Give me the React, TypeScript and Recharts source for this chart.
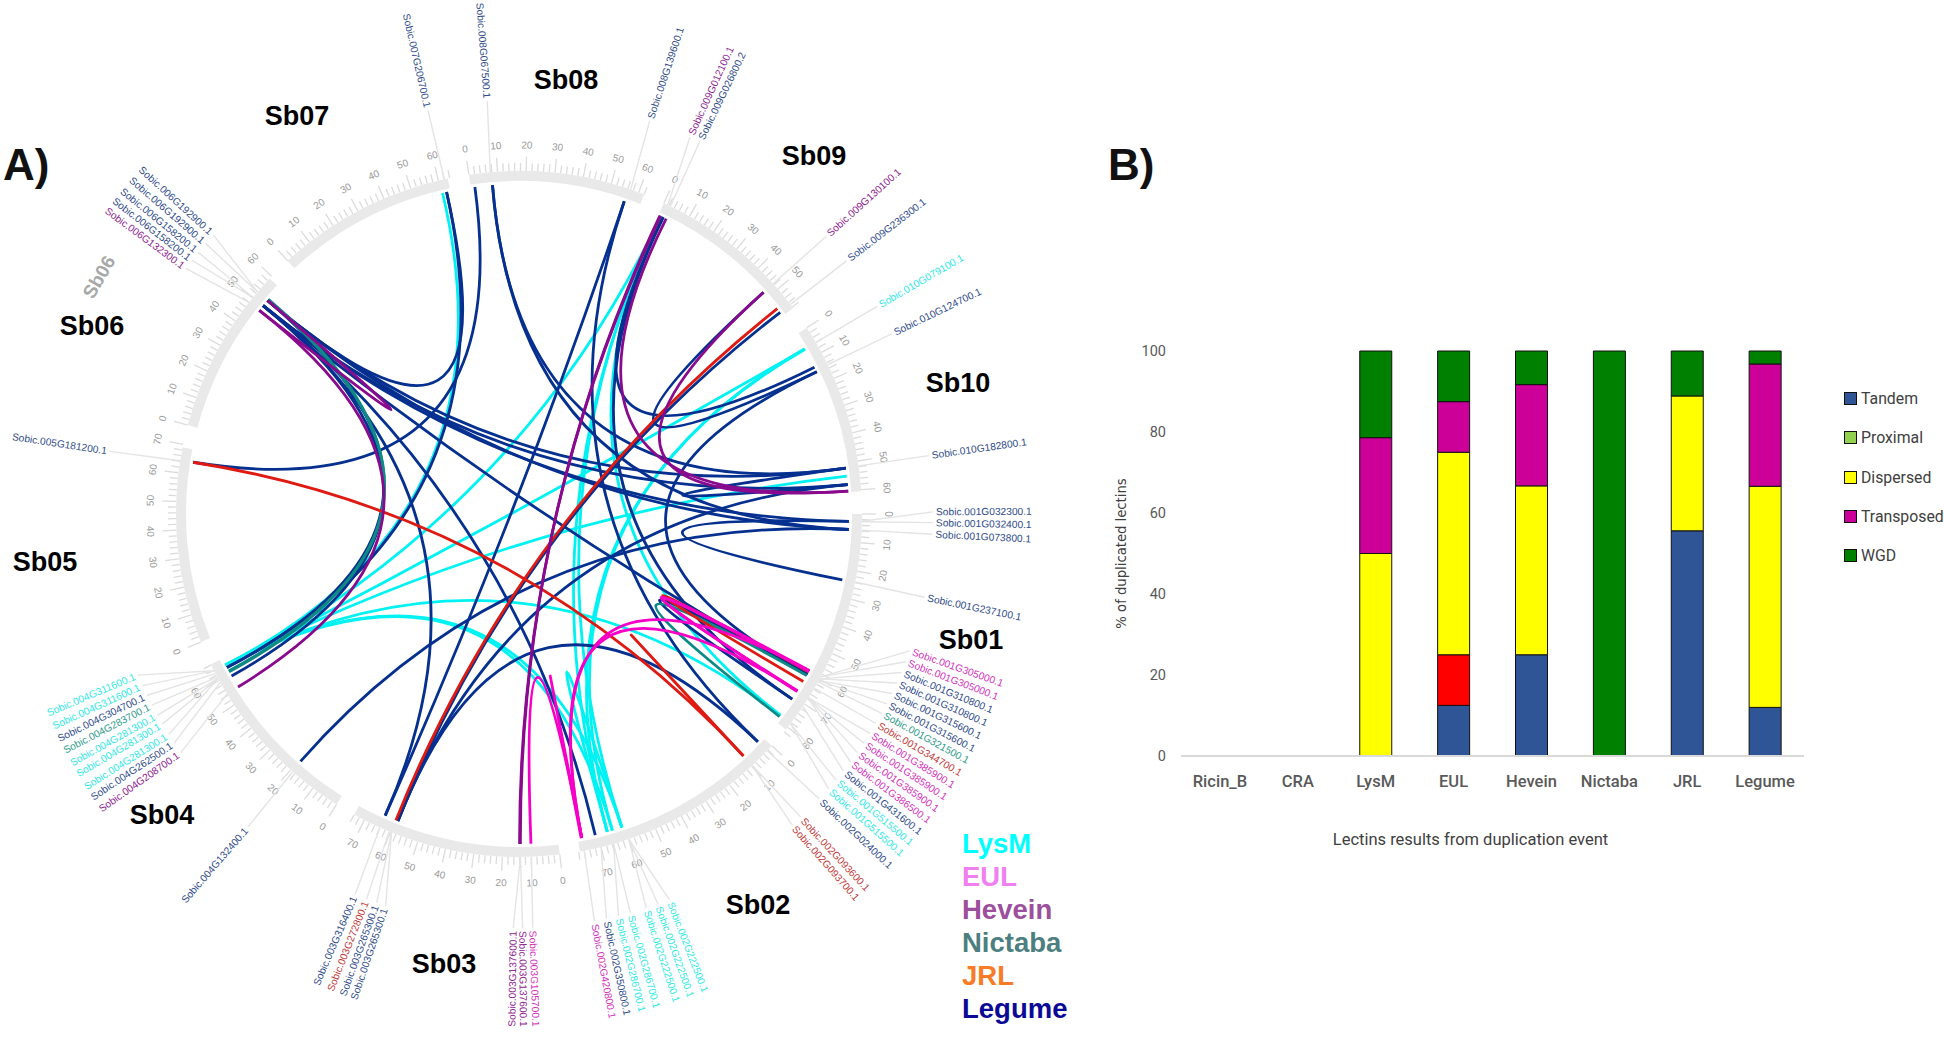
import { Bar, BarChart, Cell, Legend, Pie, PieChart, XAxis, YAxis } from "recharts";

// panel A: chromosome sizes (Mb) and the blank stretch after each one
const chromosomes = ["Sb01", "Sb02", "Sb03", "Sb04", "Sb05", "Sb06", "Sb07", "Sb08", "Sb09", "Sb10"];
const chromLengths = [81, 77.5, 74, 66.3, 69, 59, 63.3, 62, 58.5, 60.6];
const chromGaps = [7.5, 7.1, 7.1, 8.5, 7.9, 8.75, 7.5, 7.5, 8.3, 7.9];

const familyColors: Record<string, string> = {
  LysM: "#00f2f2",
  EUL: "#f600c8",
  Hevein: "#8a0a8e",
  Nictaba: "#0e8a86",
  JRL: "#de1a12",
  Legume: "#06308f",
};
const geneColors: Record<string, string> = {
  LysM: "#2fe9e6",
  EUL: "#d232bb",
  Hevein: "#8e2390",
  Nictaba: "#2f9c8c",
  JRL: "#bf3a3a",
  Legume: "#2f4b8a",
};

// [gene, chromosome, Mb, family]
const genes: [string, string, number, string][] = [
  ["Sobic.001G032300.1", "Sb01", 2.5, "Legume"],
  ["Sobic.001G032400.1", "Sb01", 2.7, "Legume"],
  ["Sobic.001G073800.1", "Sb01", 5.6, "Legume"],
  ["Sobic.001G237100.1", "Sb01", 23.8, "Legume"],
  ["Sobic.001G305000.1", "Sb01", 59, "EUL"],
  ["Sobic.001G305000.1", "Sb01", 59, "EUL"],
  ["Sobic.001G310800.1", "Sb01", 59.8, "Legume"],
  ["Sobic.001G310800.1", "Sb01", 59.8, "Legume"],
  ["Sobic.001G315600.1", "Sb01", 60.5, "Legume"],
  ["Sobic.001G315600.1", "Sb01", 60.5, "Legume"],
  ["Sobic.001G321500.1", "Sb01", 61, "Nictaba"],
  ["Sobic.001G344700.1", "Sb01", 63.5, "JRL"],
  ["Sobic.001G385900.1", "Sb01", 67.5, "EUL"],
  ["Sobic.001G385900.1", "Sb01", 67.5, "EUL"],
  ["Sobic.001G385900.1", "Sb01", 67.5, "EUL"],
  ["Sobic.001G386500.1", "Sb01", 67.6, "EUL"],
  ["Sobic.001G431600.1", "Sb01", 71, "Legume"],
  ["Sobic.001G515500.1", "Sb01", 78.4, "LysM"],
  ["Sobic.001G515500.1", "Sb01", 78.4, "LysM"],
  ["Sobic.002G024000.1", "Sb02", 2.3, "Legume"],
  ["Sobic.002G093600.1", "Sb02", 9.6, "JRL"],
  ["Sobic.002G093700.1", "Sb02", 9.7, "JRL"],
  ["Sobic.002G222500.1", "Sb02", 60, "LysM"],
  ["Sobic.002G222500.1", "Sb02", 60, "LysM"],
  ["Sobic.002G222500.1", "Sb02", 60, "LysM"],
  ["Sobic.002G286700.1", "Sb02", 65.5, "LysM"],
  ["Sobic.002G286700.1", "Sb02", 65.5, "LysM"],
  ["Sobic.002G350800.1", "Sb02", 70, "Legume"],
  ["Sobic.002G420800.1", "Sb02", 76, "EUL"],
  ["Sobic.003G105700.1", "Sb03", 9.9, "EUL"],
  ["Sobic.003G137600.1", "Sb03", 13.7, "Hevein"],
  ["Sobic.003G137600.1", "Sb03", 13.7, "Hevein"],
  ["Sobic.003G265300.1", "Sb03", 59.6, "Legume"],
  ["Sobic.003G265300.1", "Sb03", 59.6, "Legume"],
  ["Sobic.003G272800.1", "Sb03", 60.5, "JRL"],
  ["Sobic.003G316400.1", "Sb03", 64, "Legume"],
  ["Sobic.004G132400.1", "Sb04", 19, "Legume"],
  ["Sobic.004G208700.1", "Sb04", 54.5, "Hevein"],
  ["Sobic.004G262500.1", "Sb04", 59.2, "Legume"],
  ["Sobic.004G281300.1", "Sb04", 60.8, "LysM"],
  ["Sobic.004G281300.1", "Sb04", 60.8, "LysM"],
  ["Sobic.004G281300.1", "Sb04", 60.8, "LysM"],
  ["Sobic.004G283700.1", "Sb04", 61.3, "Nictaba"],
  ["Sobic.004G304700.1", "Sb04", 62.7, "Legume"],
  ["Sobic.004G311600.1", "Sb04", 63.8, "LysM"],
  ["Sobic.004G311600.1", "Sb04", 63.8, "LysM"],
  ["Sobic.005G181200.1", "Sb05", 64.2, "Legume"],
  ["Sobic.006G132300.1", "Sb06", 48, "Hevein"],
  ["Sobic.006G158200.1", "Sb06", 50.2, "Legume"],
  ["Sobic.006G158200.1", "Sb06", 50.2, "Legume"],
  ["Sobic.006G192900.1", "Sb06", 52.7, "Legume"],
  ["Sobic.006G192900.1", "Sb06", 52.7, "Legume"],
  ["Sobic.007G206700.1", "Sb07", 62.1, "Legume"],
  ["Sobic.008G067500.1", "Sb08", 7.5, "Legume"],
  ["Sobic.008G139600.1", "Sb08", 57, "Legume"],
  ["Sobic.009G012100.1", "Sb09", 1.5, "Hevein"],
  ["Sobic.009G026800.2", "Sb09", 2.5, "Legume"],
  ["Sobic.009G130100.1", "Sb09", 47.5, "Hevein"],
  ["Sobic.009G236300.1", "Sb09", 56.9, "Legume"],
  ["Sobic.010G079100.1", "Sb10", 6, "LysM"],
  ["Sobic.010G124700.1", "Sb10", 14.8, "Legume"],
  ["Sobic.010G182800.1", "Sb10", 51.7, "Legume"],
];

// clockwise degrees from north where each gene name is fanned out, same order as genes
const labelFan = [
  89.7, 91.2, 92.8, 101.6, 109.3, 110.9, 112.5, 114.1, 115.7, 117.3, 118.8, 120.4, 122, 123.6, 125.2, 126.8, 128.4,
  130, 131.6, 133.5, 137.1, 138.7, 158.7, 160.4, 162.1, 164.4, 166.1, 167.8, 169.5, 178.1, 179.5, 180.8, 198.8, 200.1,
  201.6, 203.3, 220.9, 234.8, 236.4, 237.8, 239.5, 240.9, 242.5, 244, 245.5, 247.1, 278.7, 306.4, 307.8, 309.2, 310.8,
  312.4, 347.3, 355.6, 18.4, 24.4, 25.9, 47.9, 52.3, 59.9, 64.2, 81.9,
];

// duplicated pairs: [chromosome, Mb, chromosome, Mb]
const lysmLinks: [string, number, string, number][] = [
  ["Sb07", 60.4, "Sb04", 63.8],
  ["Sb09", 1, "Sb04", 63.4],
  ["Sb10", 6, "Sb04", 63.6],
  ["Sb10", 54.8, "Sb04", 63.9],
  ["Sb01", 78.4, "Sb04", 63.7],
  ["Sb04", 63.8, "Sb02", 61],
  ["Sb04", 63.5, "Sb02", 64.6],
  ["Sb09", 1, "Sb02", 61],
  ["Sb09", 1.2, "Sb02", 66.5],
  ["Sb10", 6, "Sb02", 64.6],
  ["Sb10", 6.2, "Sb02", 66.5],
  ["Sb01", 78.2, "Sb09", 1],
  ["Sb02", 61, "Sb02", 66.5],
];
const legumeLinks: [string, number, string, number][] = [
  ["Sb06", 52.7, "Sb07", 61.9],
  ["Sb06", 50.2, "Sb04", 59.2],
  ["Sb06", 52.7, "Sb04", 62.7],
  ["Sb07", 61.9, "Sb04", 62.7],
  ["Sb06", 52.7, "Sb10", 51.9],
  ["Sb06", 50.2, "Sb10", 57.9],
  ["Sb06", 50.2, "Sb01", 2.7],
  ["Sb06", 52.7, "Sb01", 5.6],
  ["Sb06", 50.2, "Sb01", 60.5],
  ["Sb06", 50.2, "Sb03", 64],
  ["Sb06", 50.2, "Sb02", 71],
  ["Sb08", 1.5, "Sb05", 64.4],
  ["Sb08", 7.9, "Sb10", 51.9],
  ["Sb08", 7.9, "Sb01", 5.6],
  ["Sb08", 56.2, "Sb03", 64],
  ["Sb08", 56.2, "Sb02", 2.3],
  ["Sb09", 1.9, "Sb01", 71],
  ["Sb09", 56.9, "Sb03", 59],
  ["Sb09", 1.9, "Sb10", 13.5],
  ["Sb10", 15.4, "Sb01", 60.5],
  ["Sb10", 15.4, "Sb09", 47.5],
  ["Sb10", 51.9, "Sb10", 57.9],
  ["Sb01", 2.7, "Sb01", 24],
  ["Sb01", 5.6, "Sb04", 19.4],
  ["Sb10", 57.9, "Sb03", 59],
  ["Sb02", 2.3, "Sb03", 59],
  ["Sb01", 60.5, "Sb01", 71],
];
const nictabaLinks: [string, number, string, number][] = [
  ["Sb06", 52.9, "Sb04", 61.3],
  ["Sb06", 53.2, "Sb04", 61],
  ["Sb01", 61, "Sb01", 78.8],
];
const jrlLinks: [string, number, string, number][] = [
  ["Sb05", 64.4, "Sb02", 9.6],
  ["Sb09", 55.2, "Sb03", 59.8],
  ["Sb02", 9.6, "Sb02", 9.7],
  ["Sb01", 63.5, "Sb01", 59.5],
];
const heveinLinks: [string, number, string, number][] = [
  ["Sb09", 0.6, "Sb03", 13.7],
  ["Sb09", 0.9, "Sb03", 14],
  ["Sb09", 3.1, "Sb10", 60.2],
  ["Sb09", 47.5, "Sb10", 60.2],
  ["Sb06", 48, "Sb04", 54.6],
  ["Sb06", 48, "Sb06", 52.7],
];
const eulLinks: [string, number, string, number][] = [
  ["Sb01", 59, "Sb01", 67.5],
  ["Sb01", 59.3, "Sb01", 67.7],
  ["Sb01", 59, "Sb02", 76],
  ["Sb01", 67.5, "Sb02", 76],
  ["Sb03", 9.9, "Sb02", 76],
  ["Sb02", 76, "Sb02", 76.2],
];

// chromosome name positions on the page
const chromNames: [string, number, number][] = [
  ["Sb01", 971, 640],
  ["Sb02", 758, 905],
  ["Sb03", 444, 964],
  ["Sb04", 162, 815],
  ["Sb05", 45, 562],
  ["Sb06", 92, 326],
  ["Sb07", 297, 116],
  ["Sb08", 566, 80],
  ["Sb09", 814, 156],
  ["Sb10", 958, 383],
];

const familyLegend: [string, string][] = [
  ["LysM", "#00ffff"],
  ["EUL", "#f080f0"],
  ["Hevein", "#9c4f9c"],
  ["Nictaba", "#4d7f80"],
  ["JRL", "#f97b25"],
  ["Legume", "#0a0a96"],
];

// panel B
const lectins = ["Ricin_B", "CRA", "LysM", "EUL", "Hevein", "Nictaba", "JRL", "Legume"];
const tandem = [0, 0, 0, 12.5, 25, 0, 55.6, 12];
const proximal = [0, 0, 0, 12.5, 0, 0, 0, 0];
const dispersed = [0, 0, 50, 50, 41.7, 0, 33.3, 54.6];
const transposed = [0, 0, 28.6, 12.5, 25, 0, 0, 30.2];
const wgd = [0, 0, 21.4, 12.5, 8.3, 100, 11.1, 3.2];
const eventColors: Record<string, string> = {
  Tandem: "#2f5597",
  Proximal: "#92d050",
  Dispersed: "#ffff00",
  Transposed: "#cc0099",
  WGD: "#008000",
};

const barData = lectins.map((name, i) => ({
  name,
  Tandem: tandem[i],
  Proximal: proximal[i],
  Dispersed: dispersed[i],
  Transposed: transposed[i],
  WGD: wgd[i],
}));

const CX = 519;
const CY = 514;
const RING_IN = 333;
const RING_OUT = 343;
const LINK_R = 330;

const ringData = chromosomes.flatMap((name, i) => [
  { name, size: chromLengths[i], blank: false },
  { name: name + "gap", size: chromGaps[i], blank: true },
]);
const total = ringData.reduce((sum, d) => sum + d.size, 0);

// degrees clockwise from north, Sb01 starts at 3 o'clock
function toDeg(chrom: string, mb: number) {
  const idx = chromosomes.indexOf(chrom);
  let before = 0;
  for (let i = 0; i < idx; i++) before += chromLengths[i] + chromGaps[i];
  return 90 + ((before + mb) / total) * 360;
}

function polar(deg: number, r: number) {
  const a = (deg * Math.PI) / 180;
  return { x: CX + r * Math.sin(a), y: CY - r * Math.cos(a) };
}

function Ticks() {
  return (
    <g>
      {chromosomes.map((chrom, c) => {
        const marks = [];
        for (let mb = 0; mb <= chromLengths[c] + 1; mb += 2) marks.push(mb);
        return marks.map((mb) => {
          const deg = toDeg(chrom, mb);
          const major = mb % 10 === 0;
          const p0 = polar(deg, RING_OUT);
          const p1 = polar(deg, RING_OUT + (major ? 14 : 8));
          const t = polar(deg, 369);
          const norm = ((deg % 360) + 360) % 360;
          const rot = norm > 90 && norm < 270 ? norm - 180 : norm;
          return (
            <g key={chrom + mb}>
              <line x1={p0.x} y1={p0.y} x2={p1.x} y2={p1.y} stroke="#dcdcdc" strokeWidth={1.3} />
              {major && (
                <text
                  x={t.x}
                  y={t.y}
                  fontSize={10}
                  fill="#9a9a9a"
                  fontFamily="Liberation Sans"
                  textAnchor="middle"
                  dominantBaseline="central"
                  transform={`rotate(${rot} ${t.x} ${t.y})`}
                >
                  {mb}
                </text>
              )}
            </g>
          );
        });
      })}
    </g>
  );
}

function GeneLabels() {
  return (
    <g>
      {genes.map(([name, chrom, mb, family], i) => {
        const fan = labelFan[i];
        const from = polar(toDeg(chrom, mb), RING_OUT);
        const to = polar(fan, 414);
        const t = polar(fan, 417);
        const right = fan < 180;
        const rot = right ? fan - 90 : fan + 90;
        return (
          <g key={name + i}>
            <line x1={from.x} y1={from.y} x2={to.x} y2={to.y} stroke="#e4e4e4" strokeWidth={1.4} />
            <text
              x={t.x}
              y={t.y}
              fontSize={10.2}
              fill={geneColors[family]}
              fontFamily="Liberation Sans"
              textAnchor={right ? "start" : "end"}
              dominantBaseline="central"
              transform={`rotate(${rot} ${t.x} ${t.y})`}
            >
              {name}
            </text>
          </g>
        );
      })}
    </g>
  );
}

function LinkSet({ links, family }: { links: [string, number, string, number][]; family: string }) {
  return (
    <g fill="none" stroke={familyColors[family]} strokeWidth={2.8}>
      {links.map(([a, am, b, bm], i) => {
        const p0 = polar(toDeg(a, am), LINK_R);
        const p1 = polar(toDeg(b, bm), LINK_R);
        return <path key={i} d={`M${p0.x} ${p0.y}Q${CX} ${CY} ${p1.x} ${p1.y}`} />;
      })}
    </g>
  );
}

function PageText() {
  return (
    <g fontFamily="Liberation Sans" fontWeight="bold">
      <text x={3} y={180} fontSize={44} fill="#111">A)</text>
      <text x={1108} y={180} fontSize={44} fill="#111">B)</text>
      <text x={99} y={277} fontSize={19} fill="#a8a8a8" textAnchor="middle" dominantBaseline="central" transform="rotate(-60 99 277)">
        Sb06
      </text>
      {chromNames.map(([name, x, y]) => (
        <text key={name} x={x} y={y} fontSize={27} fill="#000" textAnchor="middle" dominantBaseline="central">
          {name}
        </text>
      ))}
      {familyLegend.map(([name, color], i) => (
        <text key={name} x={962} y={853 + i * 33} fontSize={27.5} fill={color}>
          {name}
        </text>
      ))}
    </g>
  );
}

function EventLegend(props: any) {
  return (
    <div>
      {props.payload.map((entry: any) => (
        <div key={entry.value} style={{ display: "flex", alignItems: "center", height: 39.3, fontFamily: "Roboto", fontSize: 15.8, color: "#404040" }}>
          <span style={{ width: 11, height: 11, marginRight: 4, background: eventColors[entry.value], border: "1px solid #111", display: "inline-block" }} />
          {entry.value}
        </div>
      ))}
    </div>
  );
}

export default function App() {
  return (
    <div style={{ position: "absolute", left: 0, top: 0, width: 1944, height: 1038, background: "#fff", overflow: "hidden" }}>
      <div style={{ position: "absolute", left: 0, top: 0 }}>
        <PieChart width={1944} height={1038} margin={{ top: 0, right: 0, bottom: 0, left: 0 }}>
          <Pie
            data={ringData}
            dataKey="size"
            nameKey="name"
            cx={CX}
            cy={CY}
            innerRadius={RING_IN}
            outerRadius={RING_OUT}
            startAngle={0}
            endAngle={-360}
            stroke="none"
            isAnimationActive={false}
            rootTabIndex={-1}
          >
            {ringData.map((d) => (
              <Cell key={d.name} fill={d.blank ? "none" : "#e9e9e9"} />
            ))}
          </Pie>
          <Ticks />
          <GeneLabels />
          <LinkSet links={lysmLinks} family="LysM" />
          <LinkSet links={legumeLinks} family="Legume" />
          <LinkSet links={nictabaLinks} family="Nictaba" />
          <LinkSet links={jrlLinks} family="JRL" />
          <LinkSet links={heveinLinks} family="Hevein" />
          <LinkSet links={eulLinks} family="EUL" />
          <PageText />
        </PieChart>
      </div>
      <div style={{ position: "absolute", left: 1100, top: 320 }}>
        <BarChart width={844} height={540} data={barData} margin={{ top: 31, right: 140, bottom: 74, left: 31 }} barSize={32}>
          <XAxis
            dataKey="name"
            height={30}
            interval={0}
            axisLine={{ stroke: "#d9d9d9", strokeWidth: 2 }}
            tickLine={false}
            tickMargin={13}
            tick={{ fontFamily: "Roboto", fontSize: 16.5, fontWeight: 500, fill: "#595959" }}
            label={{ value: "Lectins results from duplication event", position: "bottom", offset: 47, dx: -22, fontFamily: "Roboto", fontSize: 16.5, fill: "#404040" }}
          />
          <YAxis
            width={50}
            domain={[0, 100]}
            ticks={[0, 20, 40, 60, 80, 100]}
            axisLine={false}
            tickLine={false}
            tickMargin={9}
            tick={{ fontFamily: "Roboto", fontSize: 14.5, fill: "#595959" }}
            label={{ value: "% of duplicated lectins", angle: -90, position: "left", offset: 0, dx: -10, textAnchor: "middle", fontFamily: "DejaVu Sans", fontSize: 13.2, fill: "#404040" }}
          />
          <Bar dataKey="Tandem" stackId="a" fill={eventColors.Tandem} stroke="#111" isAnimationActive={false} />
          <Bar dataKey="Proximal" stackId="a" fill={eventColors.Proximal} stroke="#111" isAnimationActive={false}>
            {lectins.map((name) => (
              <Cell key={name} fill={name === "EUL" ? "#ff0000" : eventColors.Proximal} />
            ))}
          </Bar>
          <Bar dataKey="Dispersed" stackId="a" fill={eventColors.Dispersed} stroke="#111" isAnimationActive={false} />
          <Bar dataKey="Transposed" stackId="a" fill={eventColors.Transposed} stroke="#111" isAnimationActive={false} />
          <Bar dataKey="WGD" stackId="a" fill={eventColors.WGD} stroke="#111" isAnimationActive={false} />
          <Legend
            layout="vertical"
            align="center"
            verticalAlign="middle"
            itemSorter={null}
            content={EventLegend}
            wrapperStyle={{ position: "absolute", left: 744, top: 59, width: 100 }}
          />
        </BarChart>
      </div>
    </div>
  );
}
